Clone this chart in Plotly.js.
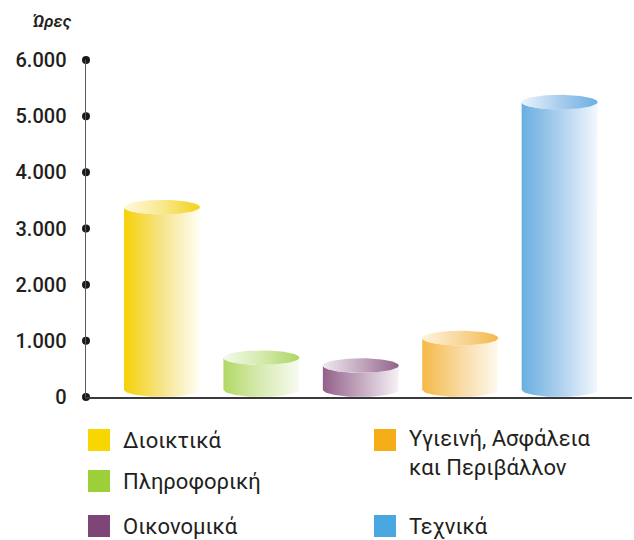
<!DOCTYPE html>
<html>
<head>
<meta charset="utf-8">
<script src="https://cdn.plot.ly/plotly-3.0.1.min.js"></script>
<style>
  html, body { margin: 0; padding: 0; background: #fff; }
  #chart { width: 634px; height: 540px; }
</style>
</head>
<body>
<div id="chart"></div>
<script>
// ---- data ----
const categories = ['Διοικτικά', 'Πληροφορική', 'Οικονομικά', 'Υγιεινή, Ασφάλεια και Περιβάλλον', 'Τεχνικά'];
const hours = [3380, 700, 560, 1050, 5250];
const tickVals = [0, 1000, 2000, 3000, 4000, 5000, 6000];
const yTitle = 'Ώρες';
const legendLabels = ['Διοικτικά', 'Πληροφορική', 'Οικονομικά', 'Υγιεινή, Ασφάλεια<br>και Περιβάλλον', 'Τεχνικά'];

// ---- styles ----
const legendColors = ['#F8D600', '#9DCF38', '#7E4577', '#F5AE18', '#4BA7E1'];
const bodyGrad = [
  ['#F5D106', '#F6E48A', '#FFFEF6'],
  ['#B2D865', '#D8EBB4', '#F8FBF1'],
  ['#93608A', '#C4A9C0', '#F6F2F6'],
  ['#F5B947', '#F8D9A1', '#FFFAF0'],
  ['#68AEE1', '#ADD0EE', '#F3F8FD']
];
const topGrad = [
  ['#FFF9DE', '#F9E88E', '#F3D21C'],
  ['#F4F9EA', '#D4EAAE', '#AED663'],
  ['#EFE8EE', '#C3A8BF', '#92638C'],
  ['#FEF3DC', '#F8D79B', '#F3B948'],
  ['#EBF3FC', '#A9CDEE', '#6CAFE2']
];
const rx = 0.382, ry = 130, N = 60;
const xRange = [-0.7646, 4.728];

function cs(c) { return [[0, c[0]], [0.5, c[1]], [1, c[2]]]; }

const traces = [];
hours.forEach((v, i) => {
  const cx = i;
  // body outline
  const bx = [], by = [];
  bx.push(cx - rx); by.push(ry);
  for (let k = 0; k <= N; k++) {
    const t = Math.PI + Math.PI * k / N;
    bx.push(cx + rx * Math.cos(t)); by.push(v + ry * Math.sin(t));
  }
  bx.push(cx + rx); by.push(ry);
  for (let k = 0; k <= N; k++) {
    const t = -Math.PI * k / N;
    bx.push(cx + rx * Math.cos(t)); by.push(ry + ry * Math.sin(t));
  }
  traces.push({
    type: 'scatter', mode: 'lines', x: bx, y: by, fill: 'toself',
    fillgradient: { type: 'horizontal', colorscale: cs(bodyGrad[i]) },
    line: { width: 0, color: 'rgba(0,0,0,0)' }, hoverinfo: 'skip', showlegend: false,
    name: categories[i]
  });
  // top ellipse
  const tx = [], ty = [];
  for (let k = 0; k <= 2 * N; k++) {
    const t = 2 * Math.PI * k / (2 * N);
    tx.push(cx + rx * Math.cos(t)); ty.push(v + ry * Math.sin(t));
  }
  traces.push({
    type: 'scatter', mode: 'lines', x: tx, y: ty, fill: 'toself',
    fillgradient: { type: 'horizontal', colorscale: cs(topGrad[i]) },
    line: { width: 0, color: 'rgba(0,0,0,0)' }, hoverinfo: 'skip', showlegend: false
  });
});

// axis dots
traces.push({
  type: 'scatter', mode: 'markers', x: tickVals.map(() => xRange[0]), y: tickVals,
  marker: { size: 8, color: '#1a1a1a' }, cliponaxis: false, hoverinfo: 'skip', showlegend: false
});

// ---- layout ----
const W = 634, H = 540, mL = 86, mR = 2, mT = 60, mB = 143;
const pw = W - mL - mR, ph = H - mT - mB;
const px = x => (x - mL) / pw;
const py = y => (H - mB - y) / ph;

const shapes = [], annotations = [];
const legendPos = [
  { x: 88, y: 440 }, { x: 88, y: 481 }, { x: 88, y: 526 },
  { x: 374, y: 440, multi: true }, { x: 374, y: 526 }
];
legendLabels.forEach((lab, i) => {
  const p = legendPos[i];
  shapes.push({
    type: 'rect', xref: 'paper', yref: 'paper',
    x0: px(p.x), x1: px(p.x + 22), y0: py(p.y + 11), y1: py(p.y - 11),
    fillcolor: legendColors[i], line: { width: 0 }
  });
  annotations.push({
    xref: 'paper', yref: 'paper', x: px(p.x + 33), y: p.multi ? py(p.y - 16) : py(p.y),
    xanchor: 'left', yanchor: p.multi ? 'top' : 'middle', align: 'left',
    text: lab, showarrow: false,
    font: { family: 'Roboto, sans-serif', size: 22, color: '#231F20' }
  });
});
annotations.push({
  xref: 'paper', yref: 'paper', x: px(31), y: py(21), xanchor: 'left', yanchor: 'middle',
  text: '<i>' + yTitle + '</i>', showarrow: false,
  font: { family: 'Roboto, sans-serif', size: 17, color: '#231F20', weight: 600 }
});

const layout = {
  width: W, height: H,
  margin: { l: mL, r: mR, t: mT, b: mB, pad: 0 },
  paper_bgcolor: '#fff', plot_bgcolor: '#fff',
  separators: ',.',
  showlegend: false,
  xaxis: {
    range: xRange, showgrid: false, zeroline: false, showticklabels: false, ticks: '',
    showline: true, linecolor: '#3a3a3a', linewidth: 1.5, fixedrange: true
  },
  yaxis: {
    range: [0, 6000], showgrid: false, zeroline: false, tickvals: tickVals, tickformat: ',d',
    ticks: '', showline: true, linecolor: '#5a5a5a', linewidth: 1.5, ticklabelstandoff: 14,
    tickfont: { family: 'Roboto, sans-serif', size: 20, color: '#231F20', weight: 500 },
    fixedrange: true
  },
  shapes: shapes,
  annotations: annotations
};

Plotly.newPlot('chart', traces, layout, { staticPlot: true, displayModeBar: false });
</script>
</body>
</html>
